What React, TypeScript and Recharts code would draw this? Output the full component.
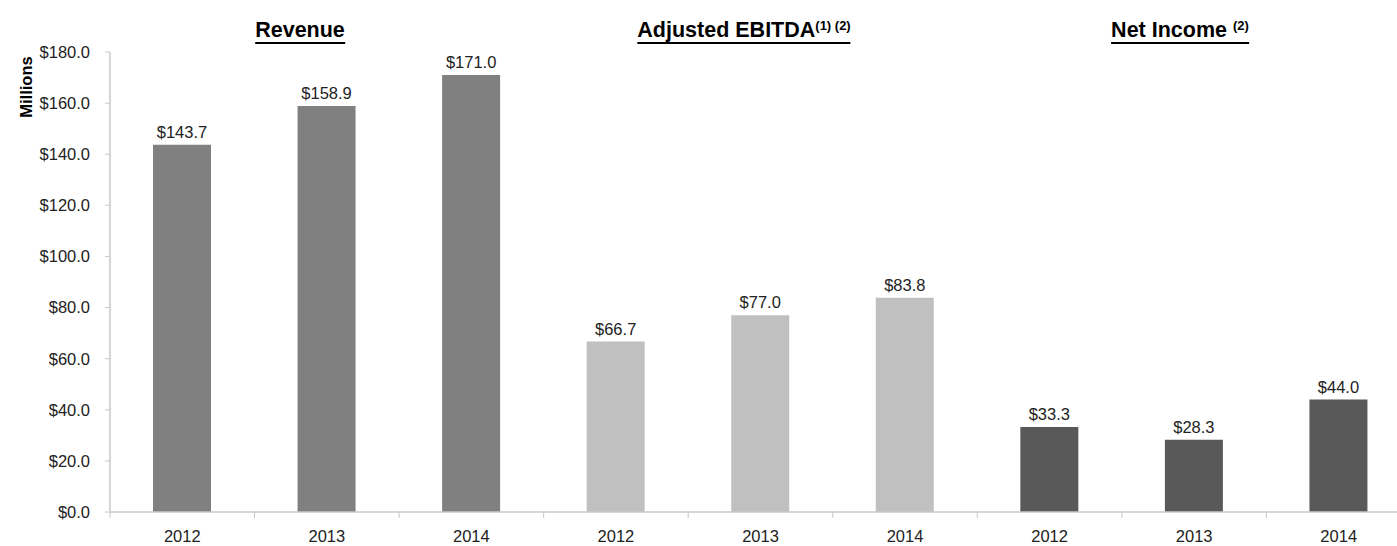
import React from 'react';
import { BarChart, Bar, XAxis, YAxis, Cell, LabelList } from 'recharts';

const categories = ['2012', '2013', '2014', '2012', '2013', '2014', '2012', '2013', '2014'];
const groups = ['Revenue', 'Revenue', 'Revenue', 'EBITDA', 'EBITDA', 'EBITDA', 'NetIncome', 'NetIncome', 'NetIncome'];
const values = [143.7, 158.9, 171.0, 66.7, 77.0, 83.8, 33.3, 28.3, 44.0];
const yTicks = [0, 20, 40, 60, 80, 100, 120, 140, 160, 180];
const groupColors: Record<string, string> = {
  Revenue: '#808080',
  EBITDA: '#c0c0c0',
  NetIncome: '#595959',
};

const data = categories.map((c, i) => ({ key: `${groups[i]}-${c}`, year: c, group: groups[i], value: values[i] }));

const FONT = '"Liberation Sans", Arial, sans-serif';
const CHART_W = 1411;
const CHART_H = 546;
const Y_W = 110;
const PLOT_W = CHART_W - Y_W;
const AXIS_COLOR = '#c8c8c8';
const TEXT_COLOR = '#222222';

const money = (v: number) => `$${Number(v).toFixed(1)}`;

const XTick = (props: any) => {
  const { x, y, index } = props;
  const bw = PLOT_W / categories.length;
  return (
    <g>
      <line x1={x - bw / 2} x2={x - bw / 2} y1={y} y2={y + 6} stroke={AXIS_COLOR} strokeWidth={1} />
      <text x={x} y={y + 30} textAnchor="middle" fontFamily={FONT} fontSize={16.5} fill={TEXT_COLOR}>
        {categories[index]}
      </text>
    </g>
  );
};

const titleStyle: React.CSSProperties = {
  position: 'absolute',
  top: 20,
  transform: 'translateX(-50%)',
  fontFamily: FONT,
  fontWeight: 'bold',
  fontSize: 21.5,
  lineHeight: 1,
  color: '#000',
  whiteSpace: 'nowrap',
  borderBottom: '2px solid #000',
};

const supStyle: React.CSSProperties = {
  fontSize: 13,
  position: 'relative',
  top: -7,
};

export default function App() {
  return (
    <div style={{ position: 'fixed', left: 0, top: 0, width: 1397, height: 546, overflow: 'hidden', background: '#fff' }}>
      <BarChart
        width={CHART_W}
        height={CHART_H}
        data={data}
        margin={{ top: 52, right: 0, bottom: 0, left: 0 }}
        barSize={58}
      >
        <XAxis
          dataKey="key"
          height={34}
          interval={0}
          tickSize={0}
          tickMargin={0}
          tickLine={false}
          axisLine={{ stroke: AXIS_COLOR, strokeWidth: 1.5 }}
          tick={<XTick />}
        />
        <YAxis
          width={Y_W}
          domain={[0, 180]}
          ticks={yTicks}
          interval={0}
          tickFormatter={money}
          tickSize={5}
          tickMargin={15}
          axisLine={{ stroke: AXIS_COLOR, strokeWidth: 1.5 }}
          tickLine={{ stroke: AXIS_COLOR }}
          tick={{ fontFamily: FONT, fontSize: 16.5, fill: TEXT_COLOR }}
          label={{
            content: () => (
              <text
                x={32}
                y={87}
                transform="rotate(-90, 32, 87)"
                textAnchor="middle"
                fontFamily={FONT}
                fontWeight="bold"
                fontSize={16.5}
                fill="#000"
              >
                Millions
              </text>
            ),
          }}
        />
        <Bar dataKey="value" isAnimationActive={false}>
          {data.map((d) => (
            <Cell key={d.key} fill={groupColors[d.group]} />
          ))}
          <LabelList
            dataKey="value"
            position="top"
            offset={7}
            formatter={(v: any) => money(v)}
            style={{ fontFamily: FONT, fontSize: 16.5, fill: TEXT_COLOR }}
          />
        </Bar>
      </BarChart>
      <div style={{ ...titleStyle, left: 300 }}>Revenue</div>
      <div style={{ ...titleStyle, left: 744 }}>
        Adjusted EBITDA<span style={supStyle}>(1) (2)</span>
      </div>
      <div style={{ ...titleStyle, left: 1180 }}>
        Net Income <span style={supStyle}>(2)</span>
      </div>
    </div>
  );
}
